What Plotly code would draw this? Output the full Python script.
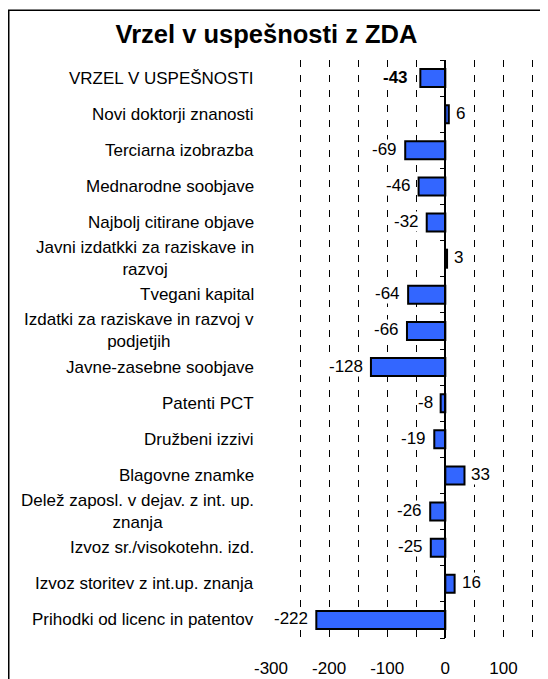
import plotly.graph_objects as go

categories = [
    "VRZEL V USPEŠNOSTI",
    "Novi doktorji znanosti",
    "Terciarna izobrazba",
    "Mednarodne soobjave",
    "Najbolj citirane objave",
    "Javni izdatkki za raziskave in<br>razvoj",
    "Tvegani kapital",
    "Izdatki za raziskave in razvoj v<br>podjetjih",
    "Javne-zasebne soobjave",
    "Patenti PCT",
    "Družbeni izzivi",
    "Blagovne znamke",
    "Delež zaposl. v dejav. z int. up.<br>znanja",
    "Izvoz sr./visokotehn. izd.",
    "Izvoz storitev z int.up. znanja",
    "Prihodki od licenc in patentov",
]
values = [-43, 6, -69, -46, -32, 3, -64, -66, -128, -8, -19, 33, -26, -25, 16, -222]
title_text = "Vrzel v uspešnosti z ZDA"
x_ticks = [-300, -200, -100, 0, 100]

# the page body has an 8px margin, so the figure is sized to sit inside it
W, H = 540, 671
ML, MR, MT, MB = 263, 1, 52, 39
XMIN, XMAX = -300, 175
PW = W - ML - MR
PH = H - MT - MB
FONT = "Liberation Sans, Arial, sans-serif"

idx = list(range(len(categories)))

fig = go.Figure()
fig.add_trace(go.Bar(
    x=values, y=idx, orientation="h", width=0.5,
    marker=dict(color="#3366FF", line=dict(color="black", width=2)),
    hoverinfo="skip",
))

annotations = []
for i, (c, v) in enumerate(zip(categories, values)):
    annotations.append(dict(
        x=(248 - ML) / PW, xref="paper", y=i, yref="y",
        text=c, showarrow=False, xanchor="right", yanchor="middle", align="center",
        font=dict(family=FONT, size=17, color="black"),
    ))
    bold = i == 0
    txt = f"<b>{v}</b>" if bold else str(v)
    shift = (-11 if bold else -7) if v < 0 else 6
    annotations.append(dict(
        x=v, xref="x", y=i, yref="y", text=txt, showarrow=False,
        xanchor="right" if v < 0 else "left", yanchor="middle",
        xshift=shift, yshift=1,
        bgcolor="white", borderpad=0,
        font=dict(family=FONT, size=17, color="black"),
    ))

fig.update_layout(
    width=W, height=H,
    margin=dict(l=ML, r=MR, t=MT, b=MB, pad=0),
    paper_bgcolor="white", plot_bgcolor="white",
    showlegend=False,
    title=dict(text=f"<b>{title_text}</b>", xref="container", yref="container",
               x=258.5 / W, y=1 - 26 / H, xanchor="center", yanchor="middle",
               font=dict(family=FONT, size=25.5, color="black")),
    xaxis=dict(range=[XMIN, XMAX], tickvals=x_ticks, ticktext=[str(t) for t in x_ticks],
               showgrid=True, gridcolor="black", gridwidth=1, griddash="7px,8px",
               minor=dict(dtick=50, tick0=0, showgrid=True, gridcolor="black", gridwidth=1,
                          griddash="7px,8px"),
               zeroline=False, showline=False, ticks="", ticklabelstandoff=18,
               tickfont=dict(family=FONT, size=17, color="black")),
    yaxis=dict(range=[len(categories) - 0.5, -0.5], anchor="free",
               position=(0 - XMIN) / (XMAX - XMIN),
               showline=True, linecolor="black", linewidth=1.5,
               ticks="outside", ticklen=5, tickcolor="black", tickwidth=1,
               tickmode="linear", tick0=-0.5, dtick=1,
               showticklabels=False, showgrid=False, zeroline=False),
    annotations=annotations,
    shapes=[dict(type="rect", xref="paper", yref="paper",
                 x0=(0.75 - ML) / PW, x1=(W + 20 - ML) / PW,
                 y0=-(MB + 20) / PH, y1=1 + (MT - 2) / PH,
                 line=dict(color="black", width=1.5), fillcolor="rgba(0,0,0,0)", layer="below")],
)

fig.write_html("out.html")
